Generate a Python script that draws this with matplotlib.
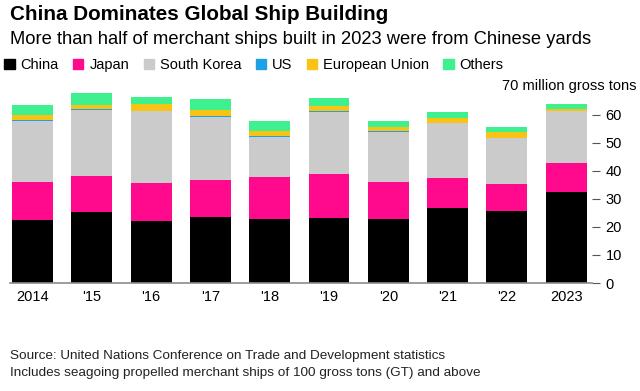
import numpy as np
import matplotlib
matplotlib.use("Agg")
import matplotlib.pyplot as plt
from matplotlib.patches import Patch
from matplotlib.transforms import blended_transform_factory

plt.rcParams['font.family'] = ['Liberation Sans', 'DejaVu Sans']

years = ["2014", "'15", "'16", "'17", "'18", "'19", "'20", "'21", "'22", "2023"]
china = [22.4, 25.2, 22.1, 23.5, 22.8, 23.0, 22.8, 26.6, 25.6, 32.5]
japan = [13.7, 12.9, 13.6, 13.3, 14.9, 16.0, 13.3, 10.8, 9.7, 10.3]
korea = [21.7, 23.6, 25.4, 22.4, 14.4, 21.8, 17.8, 19.4, 16.3, 18.3]
us = [0.3, 0.3, 0.3, 0.3, 0.3, 0.3, 0.2, 0.2, 0.2, 0.2]
eu = [1.7, 1.5, 2.3, 2.2, 1.9, 2.1, 1.3, 1.8, 1.8, 0.5]
others = [3.7, 4.3, 2.5, 3.8, 3.5, 2.7, 2.4, 2.0, 1.8, 2.0]

series = [("China", china, "#000000"),
          ("Japan", japan, "#ff0a8c"),
          ("South Korea", korea, "#cbcbcb"),
          ("US", us, "#1ea0e6"),
          ("European Union", eu, "#f7c415"),
          ("Others", others, "#3ff08f")]

fig = plt.figure(figsize=(6.4, 3.91), dpi=100)
ax = fig.add_axes([0.0156, 0.276, 0.909, 0.503])

x = np.arange(len(years))
bottom = np.zeros(len(years))
for name, vals, col in series:
    ax.bar(x, vals, 0.69, bottom=bottom, color=col, label=name)
    bottom += np.array(vals)

ax.set_xlim(-0.38, 9.43)
ax.set_ylim(0, 70)
ax.set_xticks(x)
ax.set_xticklabels(years, fontsize=10.5)
ax.tick_params(axis='x', length=0, pad=5)
ax.yaxis.tick_right()
ax.set_yticks([0, 10, 20, 30, 40, 50, 60])
ax.tick_params(axis='y', length=6, width=0.8, color='#555555', pad=4, labelsize=10.5)
for s in ['top', 'left', 'right']:
    ax.spines[s].set_visible(False)
ax.spines['bottom'].set_color('#8c8c8c')
ax.spines['bottom'].set_linewidth(1.2)
tr = blended_transform_factory(fig.transFigure, ax.transData)
ax.text(0.994, 70, "70 million gross tons", transform=tr,
        ha='right', va='center', fontsize=10.5)

fig.text(0.016, 0.963, "China Dominates Global Ship Building", fontsize=14.9,
         fontweight='bold', va='center')
fig.text(0.016, 0.899, "More than half of merchant ships built in 2023 were from Chinese yards",
         fontsize=13.2, va='center')

handles = [Patch(color=c, label=n) for n, _, c in series]
fig.legend(handles=handles, loc='center left', bbox_to_anchor=(0.0, 0.834), ncol=6,
           frameon=False, fontsize=10.5, handlelength=0.7, handleheight=0.7,
           handletextpad=0.4, columnspacing=1.0, borderaxespad=0, borderpad=0.3)

fig.text(0.016, 0.089, "Source: United Nations Conference on Trade and Development statistics",
         fontsize=9.7, va='center', color='#222222')
fig.text(0.016, 0.047, "Includes seagoing propelled merchant ships of 100 gross tons (GT) and above",
         fontsize=9.7, va='center', color='#222222')

fig.savefig("out.png", dpi=100)
